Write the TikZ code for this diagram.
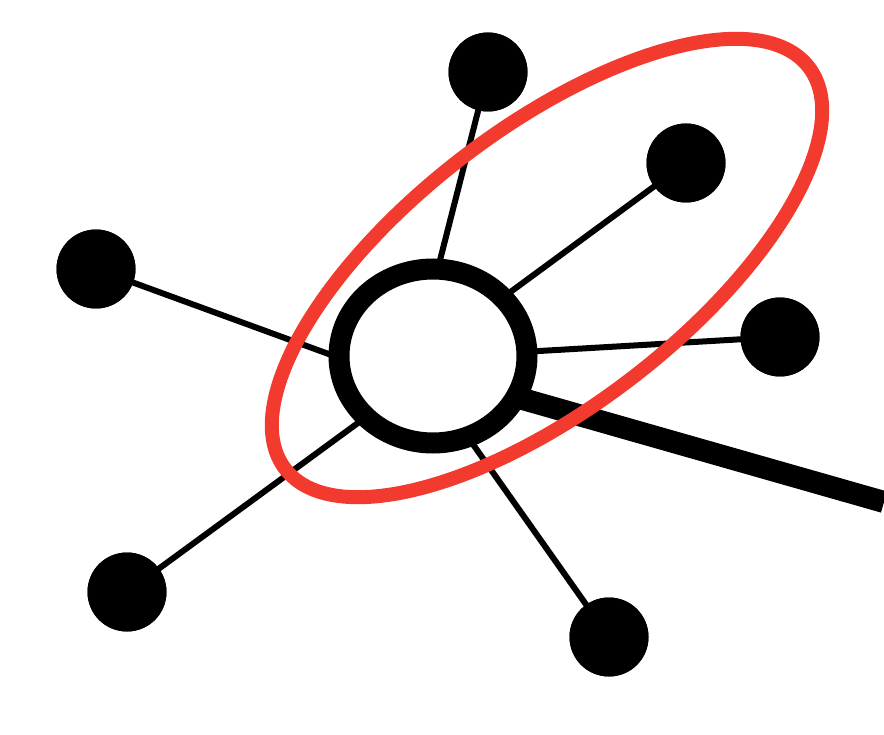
\documentclass[tikz,border=0pt]{standalone}
\usetikzlibrary{shapes.geometric}
\definecolor{marker}{RGB}{242,58,46}
\tikzset{
  dot/.style={circle, fill=black, inner sep=0pt, minimum size=79pt},
  spoke/.style={line width=6pt, black},
  ring/.style={ellipse, draw=black, fill=white, line width=21pt, inner sep=0pt, minimum width=188pt, minimum height=174pt},
  heavy/.style={line width=22pt, black},
  hilite/.style={ellipse, draw=marker, line width=14pt, inner sep=0pt, minimum width=660pt, minimum height=278pt, rotate=37.5}
}
\begin{document}
\begin{tikzpicture}[x=1pt, y=-1pt]
\useasboundingbox (0,0) rectangle (884,735);
\clip (0,0) rectangle (884,735);
% dots
\node[dot] (top) at (488,72) {};
\node[dot] (ur) at (686,163) {};
\node[dot] (left) at (96,269) {};
\node[dot] (right) at (780,337) {};
\node[dot] (ll) at (127,592) {};
\node[dot] (bot) at (609,637) {};
% spoke ends on the ring
\coordinate (eTop) at (437,272);
\coordinate (eUR) at (505,296);
\coordinate (eRight) at (522,352);
\coordinate (eLeft) at (345,360);
\coordinate (eLL) at (362,420);
\coordinate (eBot) at (465,433);
\coordinate (eHeavyA) at (470,384);
\coordinate (eHeavyB) at (884,502);
\draw[spoke] (top.center) -- (eTop);
\draw[spoke] (ur.center) -- (eUR);
\draw[spoke] (left.center) -- (eLeft);
\draw[spoke] (right.center) -- (eRight);
\draw[spoke] (ll.center) -- (eLL);
\draw[spoke] (bot.center) -- (eBot);
\draw[heavy] (eHeavyA) -- (eHeavyB);
% redraw dots on top of spokes
\foreach \n in {top,ur,left,right,ll,bot} { \fill (\n) circle[radius=39.5pt]; }
% central ring
\node[ring] (hub) at (433,356) {};
% red highlight
\node[hilite] (hl) at (547,268) {};
\end{tikzpicture}
\end{document}
